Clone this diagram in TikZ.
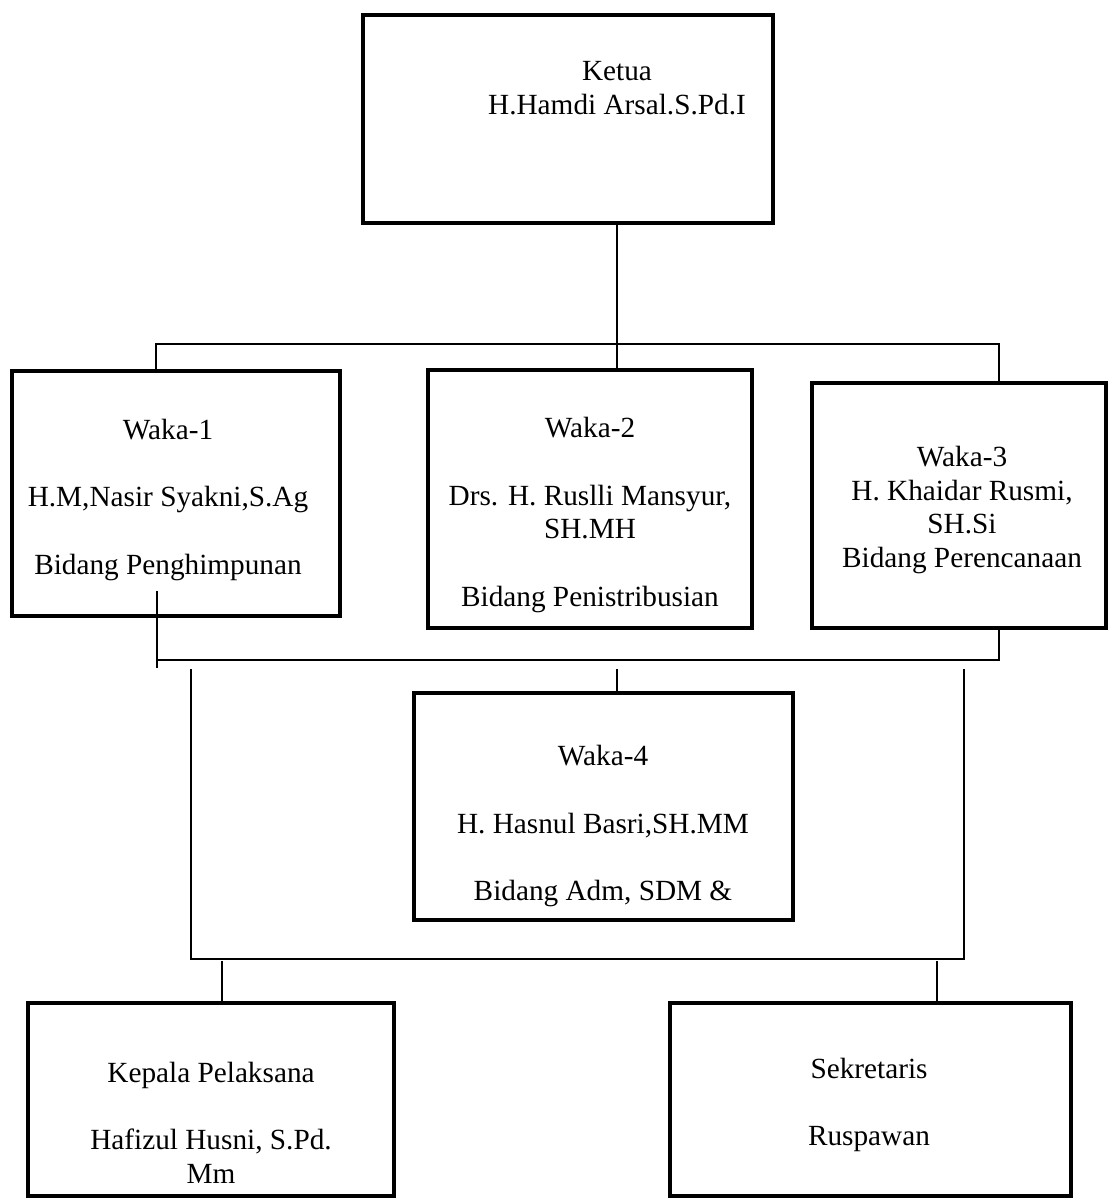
\documentclass[tikz,border=0pt]{standalone}
\usepackage{fontspec}
\setmainfont{Liberation Serif}
\begin{document}
\begin{tikzpicture}[x=0.41pt, y=-0.41pt,
		box/.style={draw, rectangle, line width=2pt, inner sep=0pt},
		txt/.style={align=center, inner sep=0pt, font=\fontsize{12}{13.8}\selectfont},
		link/.style={line width=0.6pt}]
		\useasboundingbox (0,0) rectangle (1110,1201);

		\node[box, minimum width=410*0.41pt, minimum height=208*0.41pt] (ketua) at (568,119) {};
		\node[box, minimum width=328*0.41pt, minimum height=245*0.41pt] (waka1) at (176,493.5) {};
		\node[box, minimum width=324*0.41pt, minimum height=258*0.41pt] (waka2) at (590,499) {};
		\node[box, minimum width=294*0.41pt, minimum height=245*0.41pt] (waka3) at (959,505.5) {};
		\node[box, minimum width=379*0.41pt, minimum height=227*0.41pt] (waka4) at (603.5,806.5) {};
		\node[box, minimum width=366*0.41pt, minimum height=193*0.41pt] (kepala) at (211,1099.5) {};
		\node[box, minimum width=401*0.41pt, minimum height=193*0.41pt] (sekretaris) at (870.5,1099.5) {};

		\node[txt] (ketuatxt) at (617,88) {Ketua\\H.Hamdi Arsal.S.Pd.I};
		\node[txt] (waka1txt) at (168,500) {Waka-1\\[13.8pt]H.M,Nasir Syakni,S.Ag\\[13.8pt]Bidang Penghimpunan};
		\node[txt] (waka2txt) at (590,515) {Waka-2\\[13.8pt]Drs. H. Ruslli Mansyur,\\SH.MH\\[13.8pt]Bidang Penistribusian};
		\node[txt] (waka3txt) at (962,510) {Waka-3\\H. Khaidar Rusmi,\\SH.Si\\Bidang Perencanaan};
		\node[txt] (waka4txt) at (603,826) {Waka-4\\[13.8pt]H. Hasnul Basri,SH.MM\\[13.8pt]Bidang Adm, SDM \&};
		\node[txt] (kepalatxt) at (211,1123) {Kepala Pelaksana\\[13.8pt]Hafizul Husni, S.Pd.\\Mm};
		\node[txt] (sekretaristxt) at (869,1105) {Sekretaris\\[13.8pt]Ruspawan};

		\coordinate (spine) at (617,300);
		\coordinate (topL) at (156,344);
		\coordinate (topR) at (999,344);
		\coordinate (midL) at (157,660);
		\coordinate (midR) at (999,660);
		\coordinate (stubtop) at (157,591);
		\coordinate (stubend) at (157,668);
		\coordinate (droptop) at (0,669);
		\coordinate (lowL) at (191,959);
		\coordinate (lowR) at (964,959);
		\coordinate (kdrop) at (222,961);
		\coordinate (sdrop) at (937,961);

		\draw[link] (ketua.south -| spine) -- (waka2.north -| spine);
		\draw[link] (waka1.north -| topL) -- (topL) -- (topR) -- (waka3.north -| topR);

		\draw[link] (stubtop) -- (stubend);
		\draw[link] (midL) -- (midR) -- (waka3.south -| midR);
		\draw[link] (droptop -| spine) -- (waka4.north -| spine);

		\draw[link] (droptop -| lowL) -- (lowL) -- (lowR) -- (droptop -| lowR);
		\draw[link] (kdrop) -- (kepala.north -| kdrop);
		\draw[link] (sdrop) -- (sekretaris.north -| sdrop);
	\end{tikzpicture}
\end{document}
